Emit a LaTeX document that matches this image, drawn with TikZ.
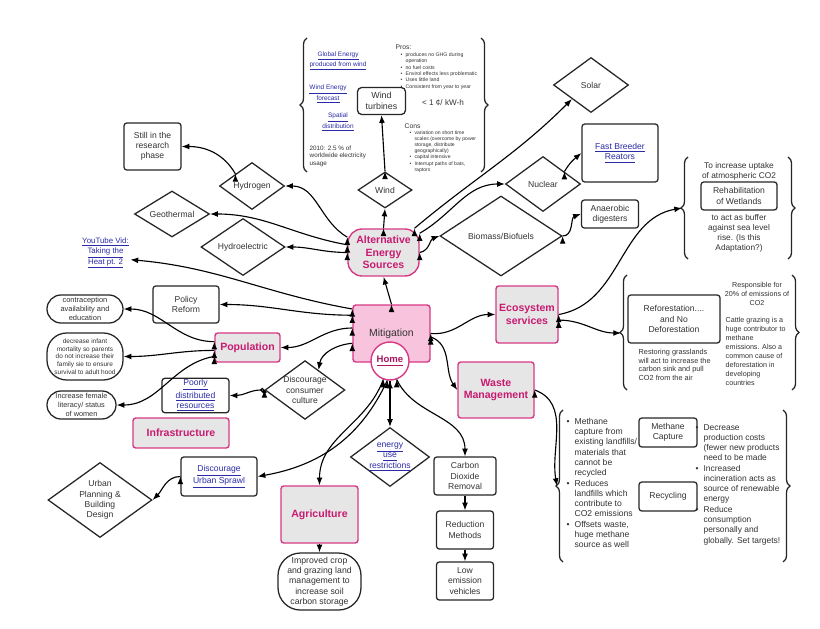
\documentclass[tikz,border=0pt]{standalone}
\usepackage{fontspec}
\setmainfont{Liberation Sans}
\usepackage{tikz}
\usetikzlibrary{arrows.meta}
\usetikzlibrary{shapes.geometric}
\usetikzlibrary{decorations.pathreplacing}

\definecolor{magline}{HTML}{D63A86}
\definecolor{magtext}{HTML}{C81A70}
\definecolor{pinkfill}{HTML}{F8C4DD}
\definecolor{catfill}{HTML}{E6E6E6}
\definecolor{linkblue}{HTML}{2B2BA8}
\definecolor{ink}{HTML}{333333}

\begin{document}
\begin{tikzpicture}[x=0.025cm, y=-0.025cm,
    every node/.style = {text=ink, align=center, inner sep=1pt, font=\fontsize{6.1}{7.3}\selectfont},
    sz/.style 2 args = {minimum width=#1*0.025cm, minimum height=#2*0.025cm},
    cat/.style = {draw=magline, line width=1pt, fill=catfill, rounded corners=2pt, text=magtext, font=\fontsize{7.5}{9}\selectfont\bfseries},
    box/.style = {draw=black!85, line width=0.9pt, fill=white, rounded corners=2pt},
    pill/.style = {draw=black!85, line width=0.9pt, fill=white, rounded corners=#1},
    dia/.style = {draw=black!85, line width=0.9pt, fill=white, diamond, aspect=#1, inner sep=0pt},
    link/.style = {text=linkblue},
    brc/.style = {draw=black!85, line width=0.9pt, decorate, decoration={brace, amplitude=5pt}},
    conn/.style = {draw=black, line width=0.8pt, -{Latex[length=5.5pt, width=4.2pt]}}
  ]
\fill[white] (0,0) rectangle (820,629);
\useasboundingbox (0,0) rectangle (820,629);

% centre
\node[sz={77}{57}, draw=magline, line width=1pt, fill=pinkfill, rounded corners=2pt, font=\fontsize{7.4}{9}\selectfont] (Mitig) at (391.5,333.5) {Mitigation};
\node[circle, draw=magline, line width=1pt, fill=white, minimum size=38*0.025cm, inner sep=0pt, text=magtext!85!black, font=\fontsize{6.8}{8}\selectfont\bfseries] (Home) at (390,361) {\underline{Home}};

% categories
\node[cat, sz={71}{47}, rounded corners=10pt] (AltEn) at (383.5,252.5) {Alternative\\Energy\\Sources};
\node[cat, sz={62}{57}] (EcoSrv) at (527,314.5) {Ecosystem\\services};
\node[cat, sz={76}{56}] (WasteMgmt) at (496,390) {Waste\\Management};
\node[cat, sz={65}{29}] (Popul) at (247.5,347.5) {Population};
\node[cat, sz={96}{30}] (Infra) at (181,433) {Infrastructure};
\node[cat, sz={77}{57}] (Agri) at (319.5,514.5) {Agriculture};

% energy sources
\node[dia=1.5, sz={54}{36}] (Wind) at (385,190) {Wind};
\node[box, sz={48}{27}, rounded corners=3pt, font=\fontsize{6.3}{7.6}\selectfont] (WindTurb) at (381.5,101) {Wind\\turbines};
\node[dia=1.36, sz={75}{55}] (Solar) at (591,85) {Solar};
\node[dia=1.36, sz={75}{55}] (Nuclear) at (543,184) {Nuclear};
\node[box, sz={76}{58}, link] (FastBreed) at (620,153) {\underline{Fast Breeder}\\\underline{Reators}};
\node[dia=1.5, sz={122}{80}] (Biomass) at (501,236) {Biomass/Biofuels};
\node[box, sz={57}{28}] (Anaerob) at (610,214) {Anaerobic\\digesters};
\node[dia=1.4, sz={65}{47}] (Hydrogen) at (252,186) {Hydrogen};
\node[box, sz={57}{47}] (Research) at (152.5,146.5) {Still in the\\research\\phase};
\node[dia=1.6, sz={75}{46}] (Geotherm) at (172,214) {Geothermal};
\node[dia=1.5, sz={84}{57}] (Hydroel) at (243,247) {Hydroelectric};
\node[link, font=\fontsize{5.6}{7.4}\selectfont] (YouTube) at (105.5,253) {\underline{YouTube Vid:}\\\underline{Taking the}\\\underline{Heat pt. 2}};

% wind notes
\node[link, font=\fontsize{4.6}{5.2}\selectfont] (GlobEn) at (338,61) {\underline{Global Energy}\\\underline{produced from wind}};
\node[link, font=\fontsize{4.6}{5.2}\selectfont] (WindFc) at (328,94) {\underline{Wind Energy}\\\underline{forecast}};
\node[link, font=\fontsize{4.6}{5.2}\selectfont] (Spatial) at (338,122) {\underline{Spatial}\\\underline{distribution}};
\node[anchor=west, align=left, font=\fontsize{4.5}{5.3}\selectfont] (Usage) at (308,156) {2010: 2.5 \% of\\worldwide electricity\\usage};
\node[anchor=west, font=\fontsize{4.8}{6}\selectfont] (ProsLbl) at (394,47) {Pros:};
\node[anchor=west, align=left, font=\fontsize{3.7}{4.5}\selectfont] (ProsList) at (399,71) {\begin{tabular}{@{}l@{\hspace{2.2pt}}l@{}}
  \textbullet & produces no GHG during\\
   & operation\\
  \textbullet & no fuel costs\\
  \textbullet & Envirol effects less problematic\\
  \textbullet & Uses little land\\
  \textbullet & Consistent from year to year
\end{tabular}};
\node[font=\fontsize{5.8}{7}\selectfont] (Price) at (443,103) {< 1 ¢/ kW-h};
\node[anchor=west, font=\fontsize{4.8}{6}\selectfont] (ConsLbl) at (403,126) {Cons};
\node[anchor=west, align=left, font=\fontsize{3.6}{4.4}\selectfont] (ConsList) at (408,151.5) {\begin{tabular}{@{}l@{\hspace{2.2pt}}l@{}}
  \textbullet & variation on short time\\
   & scales (overcome by power\\
   & storage, distribute\\
   & geographically)\\
  \textbullet & capital intensive\\
  \textbullet & Interrupt paths of bats,\\
   & raptors
\end{tabular}};
\draw[brc] (307,172) -- (307,38);
\draw[brc] (481,38) -- (481,172);

% population side
\node[box, sz={66}{37}] (PolicyRef) at (186,304.5) {Policy\\Reform};
\node[pill=10pt, sz={76}{28}, font=\fontsize{5.3}{6.4}\selectfont] (Contracep) at (85,309) {contraception\\availability and\\education};
\node[pill=14pt, sz={76}{47}, font=\fontsize{4.6}{5.4}\selectfont] (InfantMort) at (85,356.5) {decrease infant\\mortality so parents\\do not increase their\\family sie to ensure\\survival to adult hood};
\node[pill=10pt, sz={69}{28}, font=\fontsize{5.2}{6.4}\selectfont] (FemLit) at (81.5,405) {Increase female\\literacy/ status\\of women};
\node[box, sz={67}{29}, link] (PoorlyDist) at (195.5,395.5) {\underline{Poorly}\\\underline{distributed}\\\underline{resources}};
\node[dia=1.36, sz={76}{56}] (ConsCult) at (305,390) {Discourage\\consumer\\culture};
\node[box, sz={76}{39}, link] (UrbSprawl) at (219,476.5) {\underline{Discourage}\\\underline{Urban Sprawl}};
\node[dia=1.39, sz={104}{75}] (UrbPlan) at (100,500) {Urban\\Planning \&\\Building\\Design};
\node[pill=16pt, sz={83}{57}, font=\fontsize{6.2}{7.3}\selectfont, below of=Agri, node distance=1.675cm] (ImprCrop) {Improved crop\\and grazing land\\management to\\increase soil\\carbon storage};

% lower middle
\node[dia=1.34, sz={75}{56}, link] (EnergyUse) at (390,457) {\underline{energy}\\\underline{use}\\\underline{restrictions}};
\node[box, sz={62}{38}] (CO2Rem) at (465,476) {Carbon\\Dioxide\\Removal};
\node[box, sz={57}{38}, below of=CO2Rem, node distance=1.35cm] (RedMeth) {Reduction\\Methods};
\node[box, sz={57}{38}, below of=RedMeth, node distance=1.275cm] (LowEmis) {Low\\emission\\vehicles};

% ecosystem notes
\node[font=\fontsize{5.9}{7.1}\selectfont] (Uptake) at (739,171) {To increase uptake\\of atmospheric CO2};
\node[box, sz={76}{28}] (Wetlands) at (739,196) {Rehabilitation\\of Wetlands};
\node[font=\fontsize{5.9}{7.1}\selectfont] (Buffer) at (739,233.5) {to act as buffer\\against sea level\\rise. (Is this\\Adaptation?)};
\draw[brc] (688,259) -- (688,157);
\draw[brc] (788,157) -- (788,259);
\coordinate (WetTip) at (682,208);

\node[box, sz={92}{48}] (Reforest) at (674,319) {Reforestation....\\and No\\Deforestation};
\node[anchor=west, align=left, font=\fontsize{5.2}{6.2}\selectfont] (Grass) at (637,365) {Restoring grasslands\\will act to increase the\\carbon sink and pull\\CO2 from the air};
\node[font=\fontsize{5.1}{6.4}\selectfont] (Respons) at (757,294) {Responsible for\\20\% of emissions of\\CO2};
\node[anchor=west, align=left, font=\fontsize{5.1}{6.4}\selectfont] (Cattle) at (724,351.5) {Cattle grazing is a\\huge contributor to\\methane\\emissions. Also a\\common cause of\\deforestation in\\developing\\countries};
\draw[brc] (627,390) -- (627,275);
\draw[brc] (792,275) -- (792,390);
\coordinate (ForTip) at (621,333);

% waste notes
\node[box, sz={58}{29}] (MethCap) at (668,432.5) {Methane\\Capture};
\node[box, sz={58}{29}, below of=MethCap, node distance=1.6cm] (Recyc) {Recycling};
\node[anchor=west, align=left, font=\fontsize{6.1}{7.3}\selectfont] (WasteL) at (565,484) {\begin{tabular}{@{}l@{\hspace{3.5pt}}l@{}}
  \textbullet & Methane\\
   & capture from\\
   & existing landfills/\\
   & materials that\\
   & cannot be\\
   & recycled\\
  \textbullet & Reduces\\
   & landfills which\\
   & contribute to\\
   & CO2 emissions\\
  \textbullet & Offsets waste,\\
   & huge methane\\
   & source as well
\end{tabular}};
\node[anchor=west, align=left, font=\fontsize{6}{7.3}\selectfont] (WasteR) at (694,484.5) {\begin{tabular}{@{}l@{\hspace{3.5pt}}l@{}}
  \textbullet & Decrease\\
   & production costs\\
   & (fewer new products\\
   & need to be made\\
  \textbullet & Increased\\
   & incineration acts as\\
   & source of renewable\\
   & energy\\
  \textbullet & Reduce\\
   & consumption\\
   & personally and\\
   & globally. Set targets!
\end{tabular}};
\draw[brc] (563,562) -- (563,410);
\draw[brc] (783,410) -- (783,562);
\coordinate (WasteTip) at (557,486);

% mitigation links
\path[conn] (Mitig.north) edge (AltEn.south);
\path[conn] (Mitig.east) edge[out=-5, in=180] (EcoSrv.west);
\path[conn] (Mitig.-5) edge[out=-20, in=125] (WasteMgmt.west);
\path[conn] (Mitig.172) edge[out=180, in=0] (Popul.east);
\path[conn] (Mitig.194) edge[out=185, in=80] (ConsCult.56);
\path[conn] (Mitig.155) edge[out=180, in=0] (PolicyRef.east);
\path[conn] (Mitig.148) edge[out=170, in=-5] (YouTube.-15);

% home links
\path[conn] (Home.250) edge[out=250, in=90] (Agri.north);
\path[conn] (Home.262) edge[out=245, in=10] (UrbSprawl.east);
\path[conn] (Home.south) edge (EnergyUse.north);
\path[conn] (Home.-70) edge[out=-65, in=90] (CO2Rem.north);
\path[conn] (CO2Rem) edge (RedMeth) (RedMeth) edge (LowEmis) (Agri) edge (ImprCrop);
\path[conn] (UrbSprawl.west) edge[out=180, in=45] (UrbPlan.east);

% population links
\path[conn] (Popul.170) edge[out=180, in=0] (Contracep.east);
\path[conn] (Popul.185) edge[out=180, in=0] (InfantMort.east);
\path[conn] (Popul.195) edge[out=190, in=0] (FemLit.east);
\path[conn, {Circle[open, length=3pt]}-{Latex[length=5.5pt, width=4.2pt]}] (ConsCult.west) edge[out=180, in=0] (PoorlyDist.east);

% ecosystem and waste links
\path[conn] (EcoSrv.east) edge[out=10, in=190] (WetTip);
\path[conn] (EcoSrv.-10) edge[out=0, in=180] (ForTip);
\path[conn] (WasteMgmt.east) edge[out=-20, in=100] (WasteTip);

% energy links
\path[conn] (AltEn.north) edge (Wind.south);
\path[conn] (Wind.north) edge (WindTurb.south);
\path[conn] (AltEn.38) edge[out=40, in=225] (Solar.south west);
\path[conn] (AltEn.28) edge[out=30, in=180] (Nuclear.west);
\path[conn] (AltEn.east) edge[out=10, in=200] (Biomass.west);
\path[conn] (AltEn.west) edge[out=180, in=0] (Hydroel.east);
\path[conn] (AltEn.168) edge[out=170, in=0] (Geotherm.east);
\path[conn] (AltEn.157) edge[out=150, in=0] (Hydrogen.east);
\path[conn] (Hydrogen.north west) edge[out=120, in=0] (Research.east);
\path[conn] (Nuclear.30) edge[out=60, in=220] (FastBreed.west);
\path[conn] (Biomass.east) edge[out=0, in=200] (Anaerob.west);
\end{tikzpicture}
\end{document}
